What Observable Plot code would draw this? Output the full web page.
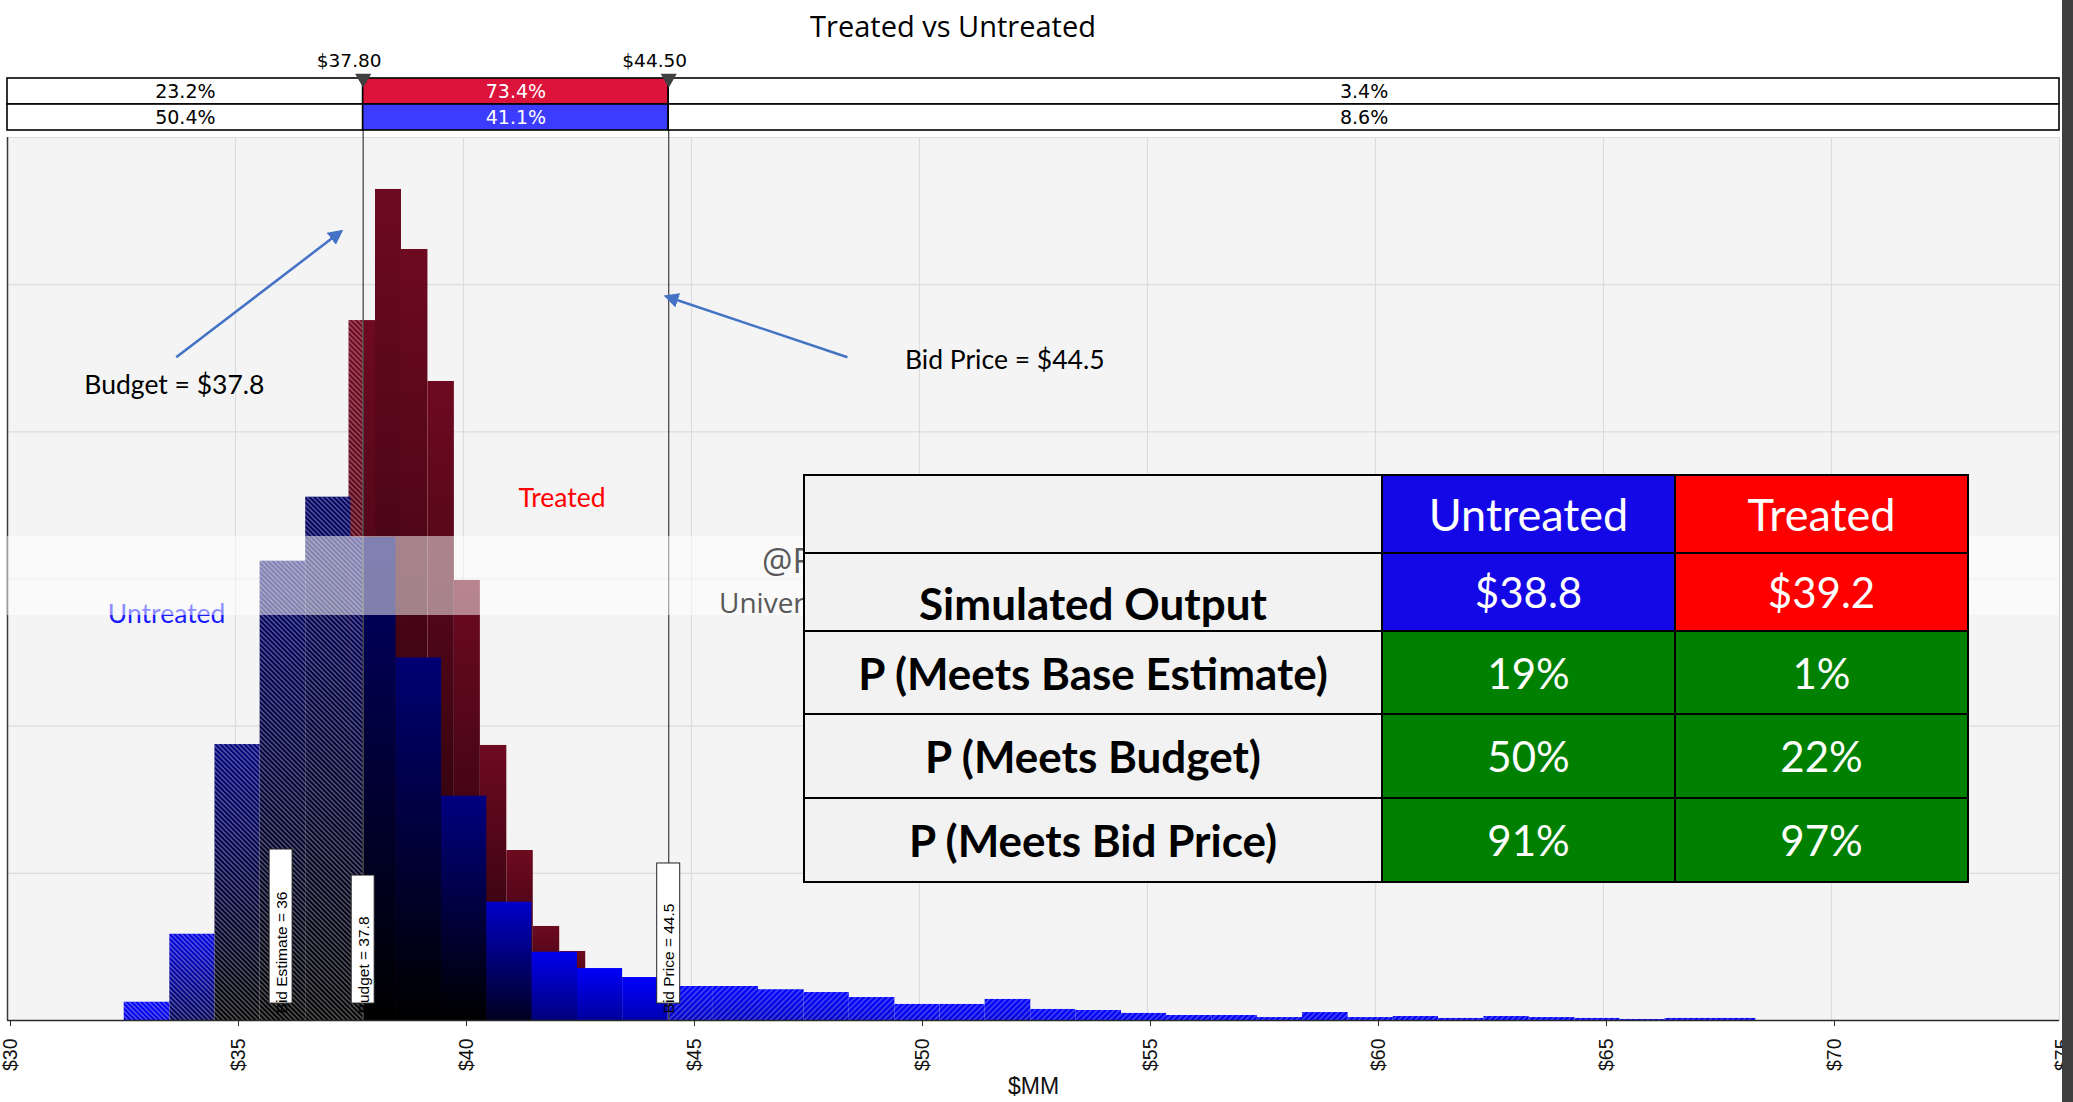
<!DOCTYPE html>
<html>
<head>
<meta charset="utf-8">
<script src="https://cdn.jsdelivr.net/npm/d3@7"></script>
<script src="https://cdn.jsdelivr.net/npm/@observablehq/plot@0.6"></script>
<style>
  html, body { margin: 0; padding: 0; background: #fff; }
  #wrap { position: relative; width: 2073px; height: 1102px; overflow: hidden; background: #fff; }
  #wrap > svg { position: absolute; left: 0; top: 0; }
  #title { position: absolute; left: 703px; width: 500px; top: 7px; text-align: center;
           font-family: "Open Sans", sans-serif; font-size: 29px; color: #000; line-height: 38px; }
  #band { position: absolute; left: 7px; width: 2052px; top: 536px; height: 79px; background: rgba(255,255,255,0.5); }
  .wm { position: absolute; color: #595959; font-family: "Open Sans", sans-serif; white-space: nowrap; }
  #tbl { position: absolute; left: 803px; top: 474px; width: 1166px; height: 409px; border-collapse: collapse;
         table-layout: fixed; font-family: Lato, sans-serif; }
  #tbl td { border: 2px solid #000; text-align: center; vertical-align: middle; font-size: 42px; color: #fff; padding: 0; }
  #tbl td.lab { background: #f2f2f2; color: #000; font-weight: bold; font-size: 44px; }
  #tbl td.hd { font-size: 45px; }
  #rightEdge { position: absolute; left: 2062px; top: 0; width: 11px; height: 1102px; background: #3f3f3f; }
</style>
</head>
<body>
<div id="wrap"></div>
<script>
// ---------------- data ----------------
const xTicks = [30, 35, 40, 45, 50, 55, 60, 65, 70, 75];
const yGrid = [1, 2, 3, 4, 5, 6];
const thresholds = [37.8, 44.5];
const stripRows = ["Treated", "Untreated"];
const treatedPct = [23.2, 73.4, 3.4];
const untreatedPct = [50.4, 41.1, 8.6];

const untreatedEdges = [32.56, 33.56, 34.55, 35.54, 36.54, 37.53, 38.52, 39.52, 40.51, 41.50, 42.50, 43.49,
  44.48, 45.48, 46.47, 47.47, 48.46, 49.46, 50.45, 51.44, 52.44, 53.43, 54.43, 55.42, 56.41, 57.41, 58.40,
  59.40, 60.39, 61.38, 62.38, 63.37, 64.37, 65.36, 66.35, 67.35, 68.34];
const untreatedHeights = [0.124, 0.586, 1.875, 3.121, 3.556, 3.282, 2.464, 1.524, 0.804, 0.464, 0.353, 0.292,
  0.231, 0.231, 0.209, 0.190, 0.156, 0.109, 0.109, 0.143, 0.075, 0.068, 0.048, 0.034, 0.034, 0.020, 0.054,
  0.020, 0.027, 0.014, 0.027, 0.020, 0.014, 0.007, 0.014, 0.014];

const treatedEdges = [37.49, 38.07, 38.64, 39.22, 39.80, 40.37, 40.95, 41.53, 42.11, 42.68];
const treatedHeights = [4.756, 5.647, 5.239, 4.342, 2.990, 1.869, 1.155, 0.639, 0.469];

const markerValues = [36, 37.8, 44.5];
const markerLabels = ["Bid Estimate = 36", "Budget = 37.8", "Bid Price = 44.5"];
const markerBoxTops = [1.162, 0.985, 1.067];
const markerBoxBottom = 0.115;
const markerTextStart = 0.048;

const noteTexts = ["Budget = $37.8", "Bid Price = $44.5", "Treated", "Untreated"];
const noteX = [33.66, 51.87, 42.16, 33.49];
const noteY = [4.315, 4.485, 3.547, 2.759];
const noteColors = ["#000000", "#000000", "#ff0000", "#1a1aff"];

const arrowFrom = [[33.70, 4.507], [48.42, 4.507]];
const arrowTo = [[37.31, 5.361], [44.45, 4.920]];

const tableCols = ["Untreated", "Treated"];
const tableRows = ["Simulated Output", "P (Meets Base Estimate)", "P (Meets Budget)", "P (Meets Bid Price)"];
const untreatedStats = ["$38.8", "19%", "50%", "91%"];
const treatedStats = ["$39.2", "1%", "22%", "97%"];

// ---------------- setup ----------------
const W = 2073, H = 1102;
const wrap = document.getElementById("wrap");

// defs (gradients, hatches, arrow head)
const defsSvg = d3.select(wrap).append("svg").attr("width", 0).attr("height", 0);
const defs = defsSvg.append("defs");
function addGrad(id, top, bottom) {
  const g = defs.append("linearGradient").attr("id", id)
    .attr("x1", 0).attr("y1", 0).attr("x2", 0).attr("y2", 1);
  g.append("stop").attr("offset", "0%").attr("stop-color", top);
  g.append("stop").attr("offset", "100%").attr("stop-color", bottom);
}
function addHatch(id, angle, color, opacity, spacing, width) {
  const p = defs.append("pattern").attr("id", id).attr("patternUnits", "userSpaceOnUse")
    .attr("width", spacing).attr("height", spacing)
    .attr("patternTransform", `rotate(${angle})`);
  p.append("line").attr("x1", spacing / 2).attr("y1", 0).attr("x2", spacing / 2).attr("y2", spacing)
    .attr("stroke", color).attr("stroke-opacity", opacity).attr("stroke-width", width);
}
addHatch("hatchBack", -45, "#ffffff", 0.5, 3.4, 1);
addHatch("hatchFwd", 45, "#ffffff", 0.45, 4, 1);
addHatch("hatchRed", -45, "#ffc8d0", 0.55, 3.6, 1);
addGrad("g-t", "rgb(110,10,32)", "rgb(28,0,8)");
const topB = d3.scaleLinear([0.3, 1.5, 3.5], [255, 128, 100]).clamp(true);
untreatedHeights.forEach((h, i) => {
  const t = topB(h);
  const b = t * Math.max(0, 1 - h / 0.95);
  addGrad(`g-u-${i}`, `rgb(0,0,${Math.round(t)})`, `rgb(0,0,${Math.round(b)})`);
});
defs.append("marker").attr("id", "ahead").attr("viewBox", "0 0 10 10").attr("refX", 8).attr("refY", 5)
  .attr("markerWidth", 6).attr("markerHeight", 6).attr("orient", "auto").attr("markerUnits", "strokeWidth")
  .append("path").attr("d", "M0,0L10,5L0,10z").attr("fill", "#4472C4");

// split bars at thresholds into zones
function segments(edges, heights, series) {
  const cuts = [30, ...thresholds, 75];
  const zones = ["below", "mid", "above"];
  const out = [];
  heights.forEach((h, i) => {
    const a = edges[i], b = edges[i + 1];
    for (let z = 0; z < 3; z++) {
      const lo = Math.max(a, cuts[z]), hi = Math.min(b, cuts[z + 1]);
      if (hi > lo) out.push({series, i, x1: lo, x2: hi, h, zone: zones[z],
        gid: series === "t" ? "g-t" : `g-u-${i}`});
    }
  });
  return out;
}
const tSegs = segments(treatedEdges, treatedHeights, "t");
const uSegs = segments(untreatedEdges, untreatedHeights, "u");
const markers = markerValues.map((v, i) => ({v, label: markerLabels[i], top: markerBoxTops[i]}));
const notes = noteTexts.map((t, i) => ({t, x: noteX[i], y: noteY[i], c: noteColors[i]}));
const arrows = arrowFrom.map((f, i) => ({x1: f[0], y1: f[1], x2: arrowTo[i][0], y2: arrowTo[i][1]}));

// ---------------- main plot ----------------
const main = Plot.plot({
  width: W, height: H,
  marginLeft: 7, marginRight: 14, marginTop: 137, marginBottom: 82,
  x: {domain: [30, 75]},
  y: {domain: [0, 6], axis: null},
  color: {type: "identity"},
  style: {fontFamily: "DejaVu Sans", background: "transparent", overflow: "visible"},
  marks: [
    Plot.frame({fill: "#f4f4f4", stroke: "#d6d6d6"}),
    Plot.gridX(xTicks, {stroke: "#dcdcdc", strokeOpacity: 1, strokeWidth: 1.2}),
    Plot.gridY(yGrid, {stroke: "#dcdcdc", strokeOpacity: 1, strokeWidth: 1.2}),
    // treated
    Plot.rect(tSegs, {x1: "x1", x2: "x2", y1: 0, y2: "h", fill: d => `url(#${d.gid})`}),
    Plot.rect(tSegs.filter(d => d.zone !== "mid"), {x1: "x1", x2: "x2", y1: 0, y2: "h",
      fill: () => "url(#hatchRed)"}),
    // untreated
    Plot.rect(uSegs, {x1: "x1", x2: "x2", y1: 0, y2: "h", fill: d => `url(#${d.gid})`}),
    Plot.rect(uSegs.filter(d => d.zone !== "mid"), {x1: "x1", x2: "x2", y1: 0, y2: "h",
      fill: d => d.zone === "below" ? "url(#hatchBack)" : "url(#hatchFwd)"}),
    // threshold lines
    Plot.ruleX(thresholds, {stroke: "#4a4a4a", strokeWidth: 1.3, insetTop: -8}),
    // axis lines
    Plot.ruleX([30], {stroke: "#3a3a3a", strokeWidth: 1.5}),
    Plot.ruleY([0], {stroke: "#2a2a2a", strokeWidth: 1.6}),
    // marker labels
    Plot.rect(markers, {x1: "v", x2: "v", y1: markerBoxBottom, y2: "top", insetLeft: -11.5, insetRight: -11.5,
      fill: "white", stroke: "#222", strokeWidth: 1}),
    Plot.text(markers, {x: "v", y: markerTextStart, text: "label", rotate: -90, textAnchor: "start",
      fontFamily: "Liberation Sans", fontSize: 15.5, fill: "#000", dx: 0.5}),
    // annotations
    Plot.link(arrows, {x1: "x1", y1: "y1", x2: "x2", y2: "y2", stroke: "#4472C4", strokeWidth: 2.5}),
    Plot.text(notes, {x: "x", y: "y", text: "t", fill: "c", fontFamily: "Lato", fontSize: 26.5}),
    // x axis
    Plot.axisX(xTicks, {tickFormat: d => "$" + d, tickRotate: -90, fontSize: 19.5, fontFamily: "Liberation Sans",
      tickSize: 6, tickPadding: 12, dx: 3, stroke: "#2a2a2a", fill: "#111", label: null}),
    Plot.text(["$MM"], {frameAnchor: "bottom", dy: 73, fontSize: 23, fontFamily: "Liberation Sans", fill: "#111"})
  ]
});
wrap.appendChild(main);
d3.select(main).selectAll("g[aria-label='link'] path").attr("marker-end", "url(#ahead)");

// ---------------- top strip ----------------
const bounds = [30, ...thresholds, 75];
const stripData = [];
stripRows.forEach((row, r) => {
  const pcts = r === 0 ? treatedPct : untreatedPct;
  pcts.forEach((p, k) => stripData.push({row, x1: bounds[k], x2: bounds[k + 1], pct: p, mid: k === 1}));
});
const strip = Plot.plot({
  width: W, height: 140,
  marginLeft: 7, marginRight: 14, marginTop: 78, marginBottom: 10,
  x: {domain: [30, 75], axis: null},
  y: {domain: stripRows, axis: null, padding: 0},
  color: {type: "identity"},
  style: {fontFamily: "DejaVu Sans", background: "transparent", overflow: "visible"},
  marks: [
    Plot.barX(stripData, {x1: "x1", x2: "x2", y: "row", inset: 0,
      fill: d => d.mid ? (d.row === "Treated" ? "#dc143c" : "#3c3cff") : "#ffffff",
      stroke: "#000", strokeWidth: 1.6}),
    Plot.text(stripData, {x: d => (d.x1 + d.x2) / 2, y: "row", text: d => d.pct.toFixed(1) + "%",
      fill: d => d.mid ? "#ffffff" : "#000000", fontSize: 19}),
    Plot.text(thresholds, {x: d => d, frameAnchor: "top", lineAnchor: "middle", dy: -17, dx: -14,
      text: d => "$" + d.toFixed(2), fontSize: 18.5, fill: "#000"}),
    Plot.dot(thresholds, {x: d => d, frameAnchor: "top", symbol: "triangle", rotate: 180, r: 6,
      fill: "#404040", stroke: "none"})
  ]
});
wrap.appendChild(strip);

// ---------------- overlays ----------------
const band = document.createElement("div"); band.id = "band"; wrap.appendChild(band);
const wm1 = document.createElement("div"); wm1.className = "wm"; wm1.textContent = "@RISK";
wm1.style.cssText = "left:762px;top:538px;font-size:34px;line-height:44px;"; wrap.appendChild(wm1);
const wm2 = document.createElement("div"); wm2.className = "wm"; wm2.textContent = "University";
wm2.style.cssText = "left:719px;top:584px;font-size:28px;line-height:36px;"; wrap.appendChild(wm2);

const title = document.createElement("div"); title.id = "title"; title.textContent = "Treated vs Untreated";
wrap.appendChild(title);

// table
const tbl = d3.select(wrap).append("table").attr("id", "tbl");
const cg = tbl.append("colgroup");
[578, 293, 293].forEach(w => cg.append("col").style("width", w + "px"));
const colColors = ["#1409e6", "#ff0000"];
const hdr = tbl.append("tr").style("height", "78px");
hdr.append("td").attr("class", "lab");
tableCols.forEach((c, j) => hdr.append("td").attr("class", "hd").style("background", colColors[j]).text(c));
const rowH = [78, 83, 84, 84];
tableRows.forEach((r, i) => {
  const tr = tbl.append("tr").style("height", rowH[i] + "px");
  const lab = tr.append("td").attr("class", "lab").text(r);
  if (i === 0) lab.style("padding-top", "22px");
  const vals = [untreatedStats[i], treatedStats[i]];
  vals.forEach((v, j) => tr.append("td").style("background", i === 0 ? colColors[j] : "#008000").text(v));
});

const edge = document.createElement("div"); edge.id = "rightEdge"; wrap.appendChild(edge);
</script>
</body>
</html>
